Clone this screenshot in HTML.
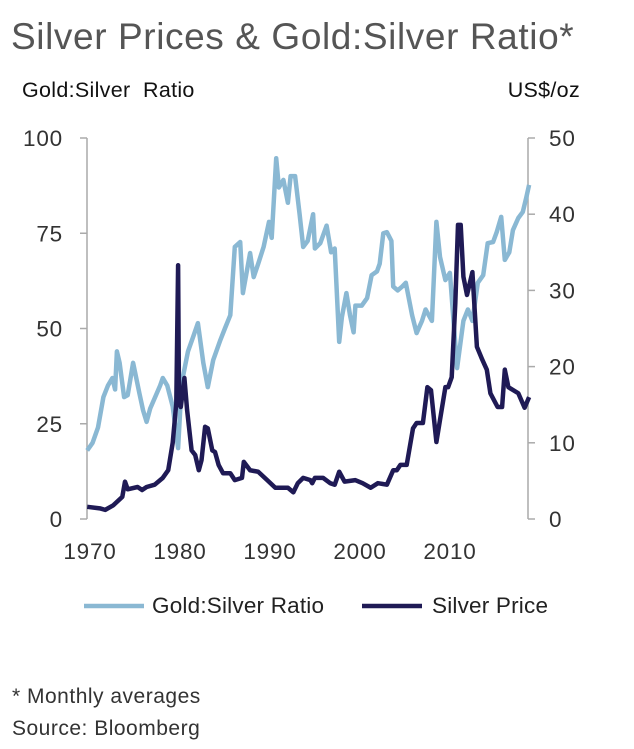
<!DOCTYPE html>
<html><head><meta charset="utf-8"><style>
body{margin:0;background:#fff;font-family:"Liberation Sans",sans-serif;}
svg text{font-family:"Liberation Sans",sans-serif;}
</style></head><body>
<svg width="634" height="744" xmlns="http://www.w3.org/2000/svg">
<text x="11" y="49" font-size="37" letter-spacing="0.6" fill="#555">Silver Prices &amp; Gold:Silver Ratio*</text>
<text x="22" y="97" font-size="21.5" letter-spacing="0.3" fill="#111">Gold:Silver&#160; Ratio</text>
<text x="580" y="97" font-size="21.5" letter-spacing="0.3" fill="#111" text-anchor="end">US$/oz</text>
<g id="axes"></g>
<g id="series"></g>
<g>
<line x1="84" y1="606" x2="144" y2="606" stroke="#8ab8d3" stroke-width="4.5"/>
<text x="152" y="613" font-size="22.5" letter-spacing="0.2" fill="#222">Gold:Silver Ratio</text>
<line x1="362" y1="606" x2="422" y2="606" stroke="#1f1a55" stroke-width="4.5"/>
<text x="432" y="613" font-size="22.5" letter-spacing="0.2" fill="#222">Silver Price</text>
</g>
<text x="12" y="703" font-size="21" letter-spacing="0.5" fill="#333">* Monthly averages</text>
<text x="12" y="735" font-size="21" letter-spacing="0.5" fill="#333">Source: Bloomberg</text>
</svg>
<script>
const ratioYears=[1969.8,1970.4,1971,1971.6,1972.1,1972.6,1972.9,1973.1,1973.4,1973.9,1974.3,1974.9,1975.6,1976,1976.4,1976.8,1977.9,1978.2,1978.7,1979.3,1979.9,1980.3,1981,1981.6,1982.1,1982.7,1983.2,1983.8,1984.6,1985.1,1985.7,1986.2,1986.8,1987.1,1987.9,1988.3,1988.8,1989.4,1990,1990.3,1990.8,1991.1,1991.6,1992.1,1992.4,1992.9,1993.4,1993.8,1994.3,1994.9,1995.1,1995.7,1996.4,1996.9,1997.3,1997.8,1998.1,1998.6,1999,1999.4,1999.6,2000.3,2000.9,2001.4,2002,2002.3,2002.7,2003.1,2003.6,2003.8,2004.3,2004.8,2005.2,2005.9,2006.4,2007,2007.4,2008.1,2008.6,2009,2009.6,2010.1,2010.9,2011.6,2012.1,2012.6,2013.2,2013.8,2014.3,2014.9,2015.3,2015.8,2016.2,2016.7,2017.1,2017.7,2018.2,2018.6,2018.9];
const ratioValues=[18,20,24,32,35,37,34,44,41,32,32.5,41,33,28.6,25.5,29,35,37,35,29.5,18.6,35.7,44,48,51.4,41,34.6,41.7,47,50,53.5,71.4,72.7,59.3,69.8,63.5,67,71.4,78,73.8,94.7,87,89,83,90,90,80,71.4,73,80,71,72.4,77,70,71,46.5,53,59.3,53.5,49,56,56,58,64,65,67,75,75.3,73,61,60,61,62,53.5,48.8,52,55,52,78,68.8,62.7,64.6,39.6,52,55,52,62,64,72.4,72.7,75.3,79.3,68,70,75.8,79,80.6,84.5,87.7];
const silverYears=[1969.8,1971.2,1971.8,1972.7,1973.7,1974,1974.3,1975.4,1975.9,1976.4,1977.3,1978.2,1978.8,1979.3,1979.7,1979.9,1980.0,1980.2,1980.6,1980.9,1981.4,1981.8,1982.2,1982.5,1982.9,1983.2,1983.7,1984,1984.4,1984.9,1985.7,1986.2,1987,1987.2,1987.9,1988.8,1989.8,1990.7,1991.2,1992.1,1992.7,1993.2,1993.8,1994.6,1994.8,1995.1,1996,1996.8,1997.3,1997.8,1998.4,1999.6,2000.4,2001.3,2002.1,2003.1,2003.8,2004.2,2004.6,2005.3,2006,2006.4,2007.1,2007.6,2008,2008.6,2009,2009.6,2009.9,2010.3,2010.7,2011,2011.3,2011.6,2012,2012.6,2013.1,2013.7,2014.2,2014.6,2015.4,2015.9,2016.2,2016.6,2017.7,2018.4,2018.9];
const silverValues=[1.6,1.4,1.2,1.8,2.9,4.9,3.9,4.2,3.8,4.2,4.5,5.4,6.4,10,15.2,33.3,15.2,14.7,18.5,14.3,9,8.4,6.4,7.7,12.1,11.9,9,8.8,7.1,6,6,5.1,5.4,7.5,6.4,6.2,5.1,4.1,4.1,4.1,3.5,4.7,5.4,5.1,4.7,5.4,5.4,4.7,4.5,6.2,4.9,5.1,4.7,4.1,4.7,4.5,6.4,6.4,7.1,7.1,11.9,12.6,12.6,17.3,16.9,10.1,13,17.3,17.3,18.6,28.3,38.6,38.6,31.8,29.4,32.4,22.6,20.9,19.6,16.5,14.7,14.7,19.6,17.3,16.5,14.6,16];
const leftTicks=[0,25,50,75,100];
const rightTicks=[0,10,20,30,40,50];
const xTicks=[1970,1980,1990,2000,2010];

const NS="http://www.w3.org/2000/svg";
const X=y=>89+(y-1970)*9.0;
const YL=v=>519-v*3.81;
const YR=v=>519-v*7.62;
function mk(tag,attrs,parent){const e=document.createElementNS(NS,tag);for(const k in attrs)e.setAttribute(k,attrs[k]);parent.appendChild(e);return e;}
const ax=document.getElementById('axes');
let l=mk('line',{x1:87,y1:138,x2:87,y2:519,stroke:'#aaa','stroke-width':1.5},ax);


l=mk('line',{x1:528,y1:138,x2:528,y2:519,stroke:'#aaa','stroke-width':1.5},ax);


leftTicks.forEach(v=>{
 const t=mk('line',{x1:80,y1:YL(v),x2:87,y2:YL(v),stroke:'#aaa','stroke-width':1.5},ax);
 
 
 const tx=mk('text',{x:63,y:YL(v)+8,'font-size':22.5,'letter-spacing':0.8,fill:'#333','text-anchor':'end'},ax);tx.textContent=v;
 
 
});
rightTicks.forEach(v=>{
 const t=mk('line',{x1:528,y1:YR(v),x2:535,y2:YR(v),stroke:'#aaa','stroke-width':1.5},ax);
 
 
 const tx=mk('text',{x:549,y:YR(v)+8,'font-size':22.5,'letter-spacing':0.8,fill:'#333'},ax);tx.textContent=v;
 
 
});
xTicks.forEach(v=>{
 const tx=mk('text',{x:X(v)+1,y:559,'font-size':22.5,'letter-spacing':0.8,fill:'#333','text-anchor':'middle'},ax);tx.textContent=v;
 
 
});
const sg=document.getElementById('series');
let p=mk('polyline',{points:ratioYears.map((y,i)=>X(y)+','+YL(ratioValues[i])).join(' '),fill:'none',stroke:'#8ab8d3','stroke-width':4.5,'stroke-linejoin':'round'},sg);


p=mk('polyline',{points:silverYears.map((y,i)=>X(y)+','+YR(silverValues[i])).join(' '),fill:'none',stroke:'#1f1a55','stroke-width':4.5,'stroke-linejoin':'round'},sg);


</script>
</body></html>
